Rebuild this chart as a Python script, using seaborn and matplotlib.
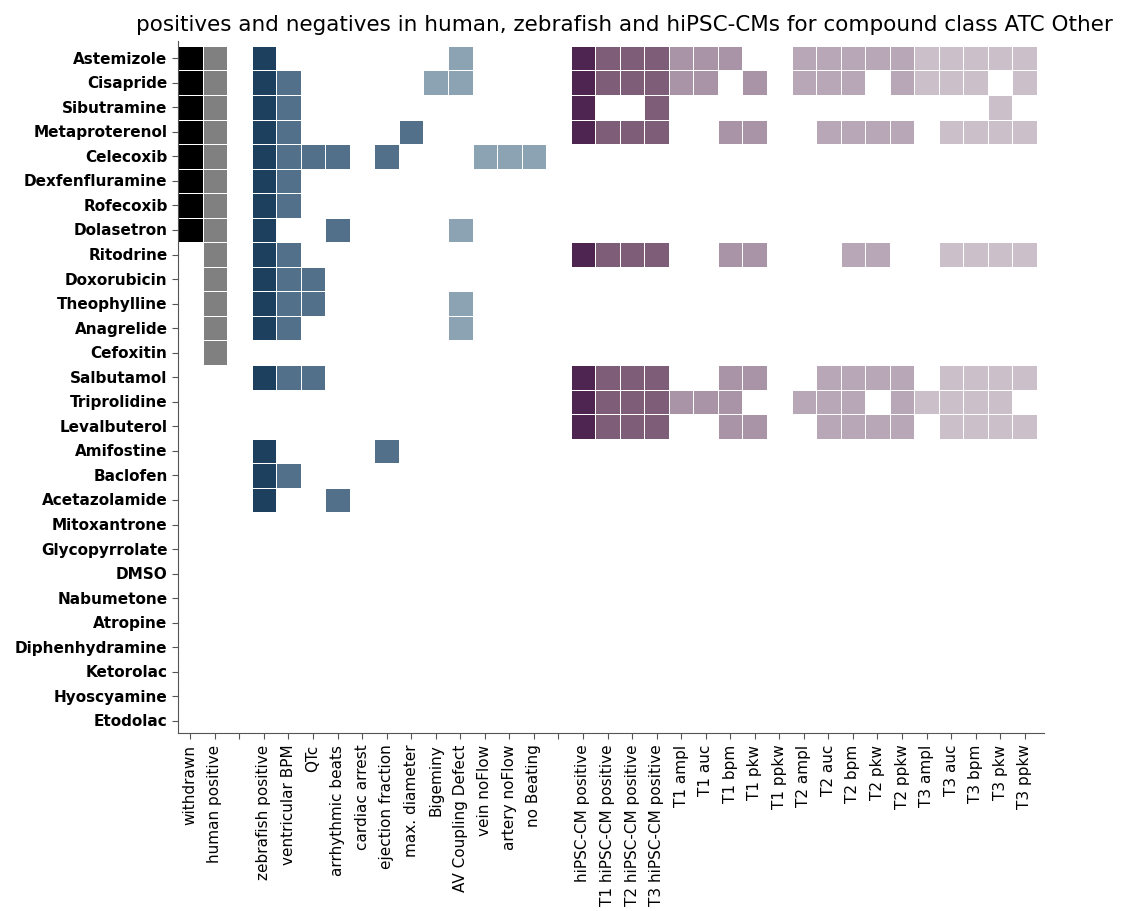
import numpy as np
import matplotlib.pyplot as plt
import seaborn as sns
from matplotlib.colors import ListedColormap

# compounds (rows)
compounds = ["Astemizole", "Cisapride", "Sibutramine", "Metaproterenol", "Celecoxib",
             "Dexfenfluramine", "Rofecoxib", "Dolasetron", "Ritodrine", "Doxorubicin",
             "Theophylline", "Anagrelide", "Cefoxitin", "Salbutamol", "Triprolidine",
             "Levalbuterol", "Amifostine", "Baclofen", "Acetazolamide", "Mitoxantrone",
             "Glycopyrrolate", "DMSO", "Nabumetone", "Atropine", "Diphenhydramine",
             "Ketorolac", "Hyoscyamine", "Etodolac"]

# column groups
human_cols = ["withdrawn", "human positive"]
zebrafish_cols = ["zebrafish positive", "ventricular BPM", "QTc", "arrhythmic beats",
                  "cardiac arrest", "ejection fraction", "max. diameter", "Bigeminy",
                  "AV Coupling Defect", "vein noFlow", "artery noFlow", "no Beating"]
hipsc_cols = ["hiPSC-CM positive", "T1 hiPSC-CM positive", "T2 hiPSC-CM positive",
              "T3 hiPSC-CM positive",
              "T1 ampl", "T1 auc", "T1 bpm", "T1 pkw", "T1 ppkw",
              "T2 ampl", "T2 auc", "T2 bpm", "T2 pkw", "T2 ppkw",
              "T3 ampl", "T3 auc", "T3 bpm", "T3 pkw", "T3 ppkw"]

# positives (1) / negatives (0) per compound
human = ["11", "11", "11", "11", "11", "11", "11", "11",
         "01", "01", "01", "01", "01"] + ["00"] * 15

zebrafish = ["100000001000", "110000011000", "110000000000", "110000100000",
             "111101000111", "110000000000", "110000000000", "100100001000",
             "110000000000", "111000000000", "111000001000", "110000001000",
             "000000000000", "111000000000", "000000000000", "000000000000",
             "100001000000", "110000000000", "100100000000"] + ["000000000000"] * 9

hipsc = ["1111111001111111111", "1111110101110111101", "1001000000000000010",
         "1111001100111101111"] + ["0" * 19] * 4 + \
        ["1111001100011001111"] + ["0" * 19] * 4 + \
        ["1111001100111101111", "1111111001110111110", "1111001100111101111"] + \
        ["0" * 19] * 12

# colours per column
palette = ["#000000", "#808080", "#1e405f", "#527089", "#8ca3b4",
           "#4e2550", "#7d5d78", "#a993a6", "#b8a7b7", "#cbbfca"]
human_code = [1, 2]
zebrafish_code = [3] + [4] * 6 + [5] * 5
hipsc_code = [6] + [7] * 3 + [8] * 5 + [9] * 5 + [10] * 5

col_code = human_code + [0] + zebrafish_code + [0] + hipsc_code
xlabels = human_cols + [""] + zebrafish_cols + [""] + hipsc_cols

rows = []
for h, z, p in zip(human, zebrafish, hipsc):
    rows.append([int(c) for c in h] + [0] + [int(c) for c in z] + [0] + [int(c) for c in p])
codes = np.array(rows) * np.array(col_code)

sns.set_style("ticks")
fig = plt.figure(figsize=(11.31, 9.12), dpi=100)
ax = fig.add_axes([0.1574, 0.195, 0.766, 0.759])

sns.heatmap(codes, mask=(codes == 0), cmap=ListedColormap(palette),
            vmin=0.5, vmax=len(palette) + 0.5, cbar=False,
            linewidths=0.5, linecolor="white",
            xticklabels=xlabels, yticklabels=compounds, ax=ax)

ax.set_xlim(0, 35.3)
ax.set_ylim(28, -0.2)
for s in ["left", "bottom"]:
    ax.spines[s].set_visible(True)
    ax.spines[s].set_color("#555555")
for s in ["top", "right"]:
    ax.spines[s].set_visible(False)

ax.tick_params(axis="both", length=4, color="#555555", labelcolor="black")
plt.setp(ax.get_yticklabels(), fontsize=11, fontweight="bold", rotation=0)
plt.setp(ax.get_xticklabels(), fontsize=11, rotation=90)

ax.set_title("positives and negatives in human, zebrafish and hiPSC-CMs for compound class ATC Other",
             fontsize=15.5, x=0.515, pad=8, color="black")

plt.savefig("out.png", dpi=100)
